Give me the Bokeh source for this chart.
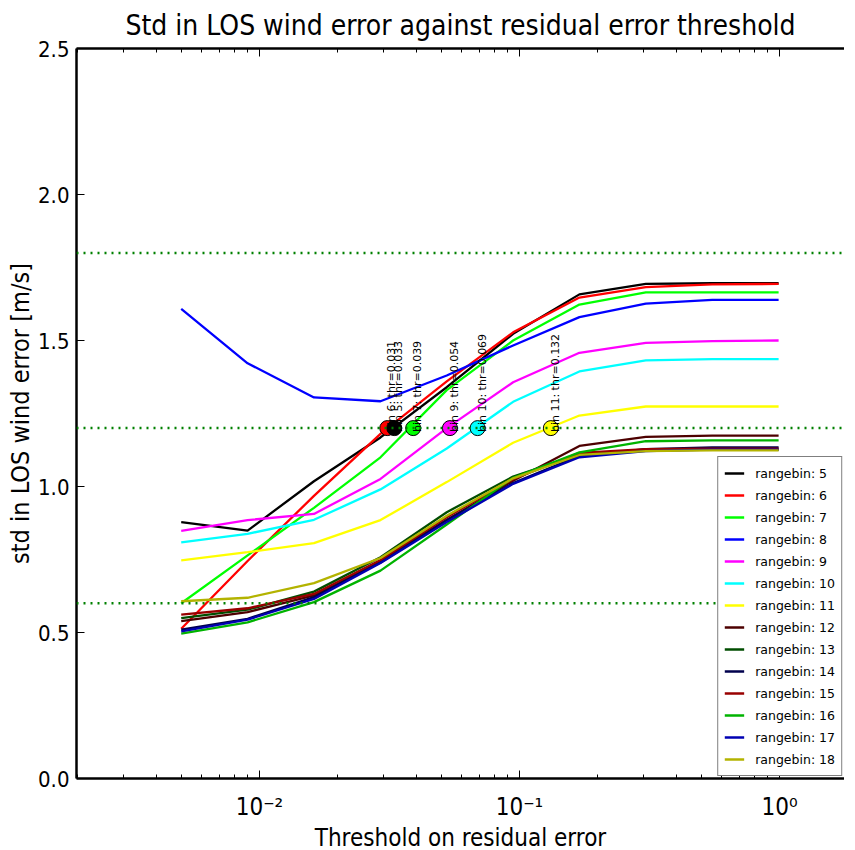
import math
from bokeh.plotting import figure
from bokeh.models import (LogAxis, FixedTicker, Span, Legend, LegendItem,
                          Range1d, PrintfTickFormatter)
from bokeh.core.properties import value
from bokeh.embed import file_html
from bokeh.resources import INLINE

# ---------------- data ----------------
thresholds = [0.005, 0.009, 0.0162, 0.0292, 0.0525, 0.0945, 0.170, 0.306, 0.551, 0.992]

rangebins = [5, 6, 7, 8, 9, 10, 11, 12, 13, 14, 15, 16, 17, 18]

std_5 = [0.878, 0.849, 1.018, 1.168, 1.340, 1.523, 1.658, 1.694, 1.696, 1.696]
std_6 = [0.513, 0.745, 0.968, 1.180, 1.360, 1.528, 1.647, 1.683, 1.692, 1.694]
std_7 = [0.600, 0.764, 0.927, 1.100, 1.330, 1.500, 1.623, 1.665, 1.665, 1.665]
std_8 = [1.608, 1.422, 1.305, 1.292, 1.380, 1.483, 1.580, 1.626, 1.639, 1.639]
std_9 = [0.848, 0.885, 0.906, 1.026, 1.200, 1.357, 1.458, 1.492, 1.498, 1.500]
std_10 = [0.809, 0.838, 0.886, 0.990, 1.130, 1.290, 1.394, 1.432, 1.436, 1.436]
std_11 = [0.747, 0.775, 0.806, 0.885, 1.015, 1.150, 1.243, 1.274, 1.274, 1.274]
std_12 = [0.539, 0.570, 0.627, 0.740, 0.885, 1.020, 1.139, 1.170, 1.174, 1.174]
std_13 = [0.549, 0.578, 0.640, 0.758, 0.912, 1.034, 1.110, 1.126, 1.126, 1.126]
std_14 = [0.510, 0.547, 0.621, 0.745, 0.885, 1.012, 1.105, 1.128, 1.134, 1.134]
std_15 = [0.561, 0.583, 0.632, 0.748, 0.895, 1.025, 1.115, 1.128, 1.130, 1.130]
std_16 = [0.496, 0.535, 0.604, 0.712, 0.870, 1.030, 1.117, 1.155, 1.158, 1.158]
std_17 = [0.504, 0.544, 0.615, 0.738, 0.878, 1.009, 1.100, 1.121, 1.126, 1.126]
std_18 = [0.607, 0.619, 0.669, 0.755, 0.900, 1.028, 1.108, 1.121, 1.124, 1.124]

series = [std_5, std_6, std_7, std_8, std_9, std_10, std_11, std_12,
          std_13, std_14, std_15, std_16, std_17, std_18]

colors = ["#000000", "#ff0000", "#00ff00", "#0000ff", "#ff00ff", "#00ffff",
          "#ffff00", "#4d0000", "#004d00", "#00004d", "#990000", "#00b300",
          "#0000b3", "#b3b300"]

# crossing points of the 1.2 m/s level
cross_level = 1.2
cross_bins = [6, 5, 7, 9, 10, 11]
cross_thr = [0.031, 0.033, 0.039, 0.054, 0.069, 0.132]
cross_colors = ["#ff0000", "#000000", "#00ff00", "#ff00ff", "#00ffff", "#ffff00"]

ref_levels = [0.6, 1.2, 1.8]

y_ticks = [0.0, 0.5, 1.0, 1.5, 2.0, 2.5]
x_major = [0.01, 0.1, 1.0]
x_labels = {0.01: "10\u207b\u00b2", 0.1: "10\u207b\u00b9", 1.0: "10\u2070"}

FONT = "DejaVu Sans Condensed"

# ---------------- figure ----------------
p = figure(frame_width=768, frame_height=730, x_axis_type="log",
           x_range=Range1d(0.001978, 1.778), y_range=Range1d(0, 2.5),
           output_backend="svg", toolbar_location=None,
           min_border_left=76, min_border_right=0, min_border_top=10,
           min_border_bottom=10)

p.title.text = "Std in LOS wind error against residual error threshold"
p.title.align = "center"
p.title.text_font = FONT
p.title.text_font_size = "28px"
p.title.text_font_style = "normal"
p.title.text_color = "black"
p.title.standoff = 13

p.xgrid.visible = False
p.ygrid.visible = False
p.outline_line_color = None
p.background_fill_color = "white"

minor = [m * d for d in (0.001, 0.01, 0.1, 1.0) for m in range(2, 10)]
xticker = FixedTicker(ticks=x_major, minor_ticks=minor)

def style_axis(ax):
    ax.axis_line_width = 2.5
    ax.axis_line_color = "black"
    ax.major_tick_in = 8
    ax.major_tick_out = 0
    ax.minor_tick_in = 4
    ax.minor_tick_out = 0
    ax.major_tick_line_width = 1
    ax.minor_tick_line_width = 1
    ax.major_label_text_font = FONT
    ax.major_label_text_color = "black"
    ax.axis_label_text_font = FONT
    ax.axis_label_text_font_style = "normal"
    ax.axis_label_text_color = "black"

xa = p.xaxis[0]
style_axis(xa)
xa.ticker = xticker
xa.major_label_overrides = x_labels
xa.major_label_text_font_size = "24px"
xa.major_label_standoff = 14
xa.axis_label = "Threshold on residual error"
xa.axis_label_text_font_size = "24px"
xa.axis_label_standoff = 0

ya = p.yaxis[0]
style_axis(ya)
ya.ticker = FixedTicker(ticks=y_ticks, minor_ticks=[])
ya.formatter = PrintfTickFormatter(format="%.1f")
ya.major_label_text_font_size = "22px"
ya.major_label_standoff = 7
ya.axis_label = "std in LOS wind error [m/s]"
ya.axis_label_text_font_size = "25px"
ya.axis_label_standoff = 0

top = LogAxis(ticker=xticker)
style_axis(top)
top.major_label_text_font_size = "10px"
top.major_label_text_color = None
top.major_label_standoff = 0
p.add_layout(top, "above")

for lv in ref_levels:
    p.add_layout(Span(location=lv, dimension="width", line_color="#008000",
                      line_width=2.5, line_dash="2 5"))

items = []
for rb, ys, c in zip(rangebins, series, colors):
    r = p.line(thresholds, ys, line_color=c, line_width=2.3)
    items.append(LegendItem(label="rangebin: %d" % rb, renderers=[r]))

p.scatter(cross_thr, [cross_level] * len(cross_thr), size=15,
          fill_color=cross_colors, line_color="black", line_width=1)

labels = ["bin %d: thr=%.3f" % (b, t) for b, t in zip(cross_bins, cross_thr)]
p.text(x=cross_thr, y=[cross_level] * len(cross_thr), text=labels,
       angle=math.pi / 2, text_align="left", text_baseline="top",
       text_font=value("DejaVu Sans"), text_font_size="11px",
       text_color="black", x_offset=-2, y_offset=4)

legend = Legend(items=items, location="bottom_right")
legend.border_line_color = "black"
legend.border_line_width = 1.5
legend.background_fill_alpha = 1
legend.label_text_font = "DejaVu Sans"
legend.label_text_font_size = "12.5px"
legend.label_text_color = "black"
legend.glyph_width = 20
legend.glyph_height = 20
legend.label_height = 20
legend.spacing = 2
legend.padding = 6
legend.margin = 2
legend.label_standoff = 11
p.add_layout(legend)

open("out.html", "w").write(file_html(p, INLINE))
